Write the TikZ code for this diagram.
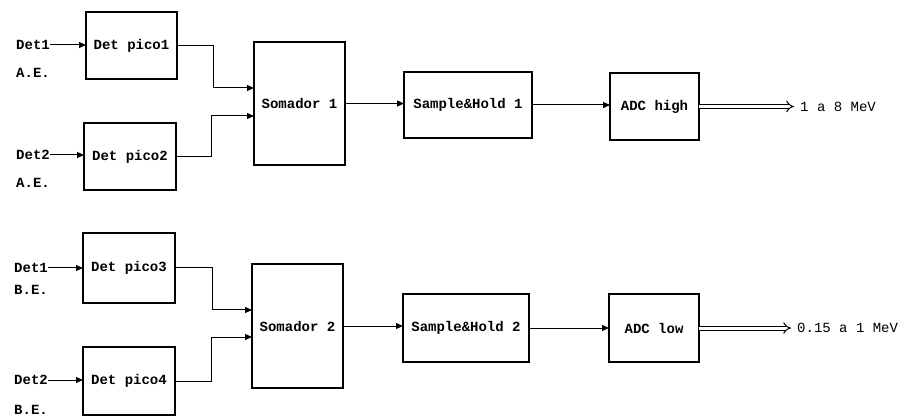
\documentclass[tikz,border=0pt]{standalone}
\usepackage{fontspec}
\setmonofont{Liberation Mono}
\usetikzlibrary{arrows.meta}
\tikzset{
  box/.style={draw, line width=1.8pt, rectangle, inner sep=0pt, outer sep=0pt, font=\ttfamily\bfseries\fontsize{14}{14}\selectfont},
  lbl/.style={anchor=west, inner sep=0pt, font=\ttfamily\bfseries\fontsize{14}{14}\selectfont},
  olbl/.style={anchor=west, inner sep=0pt, font=\ttfamily\fontsize{14}{14}\selectfont},
  conn/.style={line width=1pt, -{Triangle[length=7pt,width=6pt]}},
  wire/.style={line width=1pt},
  big/.style={double, double distance=3pt, line width=1pt, -{Implies[length=7pt,width=11pt]}},
}
\begin{document}
\begin{tikzpicture}[x=1pt,y=-1pt]
\useasboundingbox (0,0) rectangle (904,419);
% top chain
\node[box, minimum width=91pt, minimum height=67pt] (p1) at (131.5,45.5) {Det pico1};
\node[box, minimum width=92pt, minimum height=67pt] (p2) at (130,156.5) {Det pico2};
\node[box, minimum width=91pt, minimum height=123pt] (s1) at (299.5,103.5) {Somador 1};
\node[box, minimum width=128pt, minimum height=66pt] (sh1) at (468,105) {Sample\&Hold 1};
\node[box, minimum width=89pt, minimum height=67pt] (a1) at (654.5,106.5) {ADC high};
\node[lbl] (d1) at (16,45) {Det1};
\node[lbl] (e1) at (16,73) {A.E.};
\node[lbl] (d2) at (16,155) {Det2};
\node[lbl] (e2) at (16,183) {A.E.};
\node[olbl] (o1) at (800,106.5) {1 a 8 MeV};
% bottom chain
\node[box, minimum width=92pt, minimum height=70pt] (p3) at (129,268) {Det pico3};
\node[box, minimum width=92pt, minimum height=68pt] (p4) at (129,381) {Det pico4};
\node[box, minimum width=91pt, minimum height=124pt] (s2) at (297.5,326) {Somador 2};
\node[box, minimum width=126pt, minimum height=68pt] (sh2) at (466,328) {Sample\&Hold 2};
\node[box, minimum width=90pt, minimum height=68pt] (a2) at (654,328) {ADC low};
\node[lbl] (d3) at (14,268) {Det1};
\node[lbl] (e3) at (14,290) {B.E.};
\node[lbl] (d4) at (14,380) {Det2};
\node[lbl] (e4) at (14,410) {B.E.};
\node[olbl] (o2) at (797,328) {0.15 a 1 MeV};
% junction coordinates
\coordinate (j1) at (213,88);
\coordinate (j2) at (211,116);
\coordinate (j3) at (212,310);
\coordinate (j4) at (211,337);
\coordinate (q1) at (794,106.5);
\coordinate (q2) at (791,328);
% inputs
\draw[conn] (d1.east) -- (d1.east -| p1.west);
\draw[conn] (d2.east) -- (d2.east -| p2.west);
\draw[conn] (d3.east) -- (d3.east -| p3.west);
\draw[conn] (d4.east) -- (d4.east -| p4.west);
% to summers
\draw[wire] (p1.east) -| (j1);
\draw[conn] (j1) -- (j1 -| s1.west);
\draw[wire] (p2.east) -| (j2);
\draw[conn] (j2) -- (j2 -| s1.west);
\draw[wire] (p3.east) -| (j3);
\draw[conn] (j3) -- (j3 -| s2.west);
\draw[wire] (p4.east) -| (j4);
\draw[conn] (j4) -- (j4 -| s2.west);
% chain
\draw[conn] (s1.east) -- (s1.east -| sh1.west);
\draw[conn] (sh1.east) -- (sh1.east -| a1.west);
\draw[conn] (s2.east) -- (s2.east -| sh2.west);
\draw[conn] (sh2.east) -- (sh2.east -| a2.west);
% outputs
\draw[big] (a1.east) -- (q1);
\draw[big] (a2.east) -- (q2);
\end{tikzpicture}
\end{document}
